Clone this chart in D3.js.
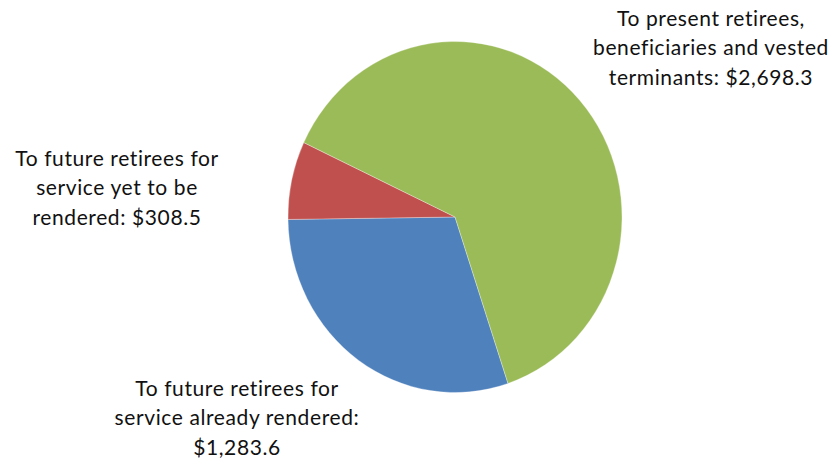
<!DOCTYPE html>
<html>
<head>
<meta charset="utf-8">
<script src="https://cdn.jsdelivr.net/npm/d3@7"></script>
<style>
  html, body { margin: 0; padding: 0; background: #fff; }
  svg { display: block; }
  text { font-family: Lato, "Liberation Sans", sans-serif; fill: #111; }
</style>
</head>
<body>
<svg id="chart" width="830" height="466"></svg>
<script>
// Slices listed clockwise, starting with the blue slice
const categories = [
  "To future retirees for service already rendered",
  "To future retirees for service yet to be rendered",
  "To present retirees, beneficiaries and vested terminants"
];
const values = [1283.6, 308.5, 2698.3];
const colors = ["#4f81bd", "#c0504d", "#9bbb59"];
const labelLines = [
  ["To future retirees for", "service already rendered:", "$1,283.6"],
  ["To future retirees for", "service yet to be", "rendered: $308.5"],
  ["To present retirees,", "beneficiaries and vested", "terminants: $2,698.3"]
];
const labelAnchors = [[237, 396], [117, 166], [711, 26]];

const svg = d3.select("#chart");
const cx = 455, cy = 217, rx = 167, ry = 175.5;

const start = 161.5 * Math.PI / 180;
const pie = d3.pie().sort(null).value(d => d)
  .startAngle(start).endAngle(start + 2 * Math.PI);
const arc = d3.arc().innerRadius(0).outerRadius(rx);

// The pie is drawn slightly taller than wide
const g = svg.append("g")
  .attr("transform", `translate(${cx},${cy}) scale(1,${ry / rx})`);

g.selectAll("path")
  .data(pie(values))
  .join("path")
  .attr("d", arc)
  .attr("fill", (d, i) => colors[i])
  .attr("stroke", "#fff")
  .attr("stroke-width", 0.6)
  .attr("stroke-opacity", 0.5);

const labels = svg.append("g").selectAll("text")
  .data(labelLines)
  .join("text")
  .attr("text-anchor", "middle")
  .attr("font-size", 21)
  .attr("letter-spacing", 0.6)
  .attr("x", (d, i) => labelAnchors[i][0])
  .attr("y", (d, i) => labelAnchors[i][1]);

labels.selectAll("tspan")
  .data(d => d)
  .join("tspan")
  .attr("x", function () { return d3.select(this.parentNode).attr("x"); })
  .attr("dy", (d, j) => j === 0 ? 0 : 29.3)
  .text(d => d);
</script>
</body>
</html>
